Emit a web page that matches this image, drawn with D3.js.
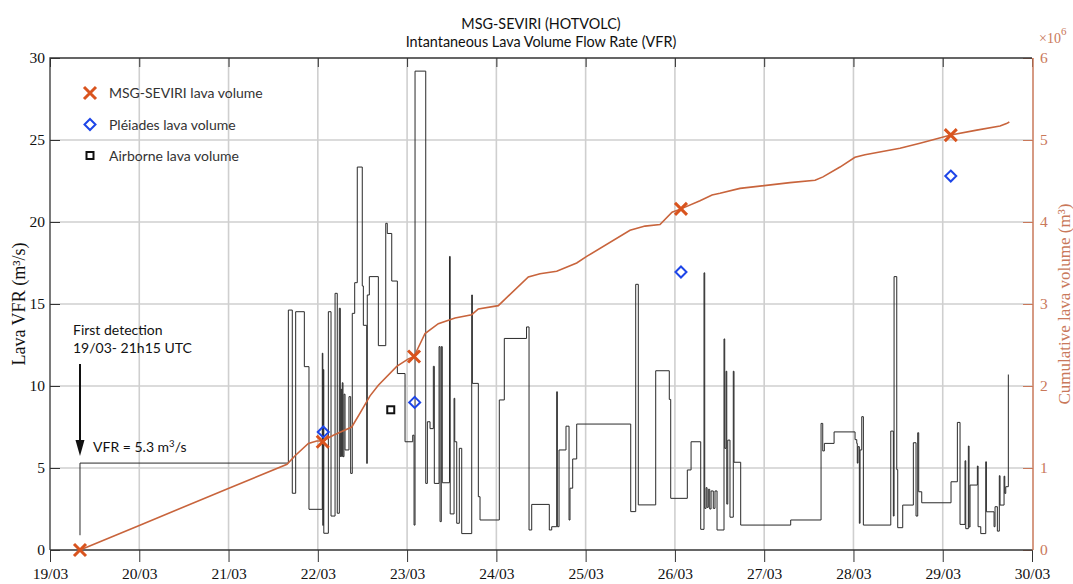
<!DOCTYPE html>
<html>
<head>
<meta charset="utf-8">
<script src="https://cdn.jsdelivr.net/npm/d3@7"></script>
<style>
body{margin:0;background:#fff;}
svg{display:block;}
</style>
</head>
<body>
<svg id="chart" width="1073" height="584"></svg>
<script>
// instantaneous VFR, step series (time = day of March, value in m3/s)
var vfrTime = [19.336,19.336,21.670,21.714,21.752,21.849,21.901,22.050,22.056,22.061,22.067,22.118,22.148,22.193,22.218,22.241,22.252,22.260,22.268,22.274,22.282,22.293,22.305,22.349,22.368,22.386,22.413,22.442,22.498,22.510,22.548,22.554,22.577,22.678,22.761,22.778,22.828,22.891,22.977,23.063,23.078,23.089,23.209,23.227,23.257,23.294,23.305,23.358,23.369,23.383,23.394,23.475,23.483,23.526,23.534,23.556,23.585,23.612,23.724,23.731,23.798,23.817,24.033,24.089,24.338,24.366,24.396,24.593,24.620,24.676,24.683,24.702,24.780,24.814,24.825,24.855,24.900,25.505,25.561,25.590,25.785,25.937,25.953,26.139,26.181,26.289,26.326,26.334,26.349,26.360,26.374,26.390,26.405,26.430,26.449,26.472,26.550,26.558,26.573,26.581,26.592,26.617,26.654,26.662,26.737,27.297,27.637,27.656,27.674,27.783,28.018,28.037,28.043,28.051,28.066,28.074,28.093,28.111,28.418,28.447,28.455,28.485,28.496,28.552,28.671,28.701,28.720,28.731,28.765,29.093,29.164,29.194,29.250,29.258,29.287,29.295,29.306,29.388,29.396,29.426,29.482,29.489,29.575,29.586,29.612,29.634,29.642,29.687,29.695,29.706,29.735];
var vfrValue = [0.9,5.3,14.63,3.46,14.53,11.18,2.48,12.0,1.5,11.0,1.02,14.53,2.07,15.65,2.24,14.74,5.7,9.8,5.7,10.2,5.69,9.5,6.1,9.35,4.67,14.43,16.3,23.35,16.1,13.7,5.28,15.55,16.67,12.46,19.92,19.3,16.4,10.76,6.6,7.0,1.52,29.2,4.06,7.82,7.4,11.2,4.06,12.4,1.73,12.4,4.1,17.9,2.2,9.25,6.6,1.63,6.2,1.0,15.55,10.16,3.25,1.83,9.15,12.9,13.6,1.22,2.78,1.22,1.42,9.65,1.42,6.1,7.55,1.83,3.77,5.55,7.68,2.34,16.2,2.75,10.93,9.18,3.15,4.88,6.6,1.26,16.9,2.54,3.8,2.6,3.7,2.5,3.6,2.54,3.6,1.22,12.87,6.2,10.9,2.8,6.7,2.0,10.9,5.35,1.52,1.83,7.72,6.04,6.5,7.2,6.73,6.5,5.3,6.3,1.63,6.1,8.13,1.52,7.25,2.07,16.67,4.9,1.36,2.74,6.54,2.07,7.15,3.55,2.88,4.16,7.78,1.56,5.44,1.3,6.34,1.4,3.96,5.12,1.42,1.0,5.38,2.33,1.42,2.64,1.15,4.53,2.74,4.5,3.45,3.86,10.7];

// cumulative lava volume (x 10^6 m3)
var cumTime = [19.336,20.000,20.997,21.655,21.745,21.894,21.988,22.055,22.174,22.380,22.473,22.585,22.678,22.884,23.014,23.078,23.201,23.350,23.537,23.724,23.798,24.022,24.358,24.489,24.676,24.900,25.012,25.497,25.665,25.833,25.968,26.068,26.281,26.416,26.505,26.729,27.289,27.570,27.659,27.849,28.017,28.129,28.521,28.745,29.090,29.381,29.642,29.714,29.746];
var cumVolume = [0,0.30,0.75,1.045,1.15,1.30,1.33,1.33,1.40,1.50,1.67,1.88,2.01,2.24,2.33,2.36,2.64,2.76,2.83,2.87,2.94,2.98,3.33,3.37,3.40,3.50,3.58,3.90,3.95,3.97,4.12,4.16,4.26,4.33,4.35,4.41,4.48,4.51,4.55,4.67,4.79,4.82,4.90,4.96,5.06,5.12,5.17,5.20,5.22];

var seviriTime = [19.336,22.055,23.078,26.068,29.090];
var seviriVolume = [0,1.32,2.36,4.16,5.06];
var pleiadesTime = [22.061,23.085,26.068,29.090];
var pleiadesVolume = [1.44,1.80,3.39,4.56];
var airborneTime = [22.817];
var airborneVolume = [1.71];

var dayTicks = [19,20,21,22,23,24,25,26,27,28,29,30];
var dayLabels = ["19/03","20/03","21/03","22/03","23/03","24/03","25/03","26/03","27/03","28/03","29/03","30/03"];
var vfrTicks = [0,5,10,15,20,25,30];
var volTicks = [0,1,2,3,4,5,6];

var serif = '"Liberation Serif","Times New Roman",serif';
var sans = 'Lato,"Open Sans",sans-serif';
var orange = "#c8643c";
var axisOrange = "#c9785a";

var L = 50, R = 1032, T = 58, B = 550;
var svg = d3.select("#chart");

var x = d3.scaleLinear().domain([19,30]).range([L,R]);
var y = d3.scaleLinear().domain([0,30]).range([B,T]);
var y2 = d3.scaleLinear().domain([0,6]).range([B,T]);

// grid
svg.append("g").selectAll("line").data(dayTicks.slice(1,-1)).enter().append("line")
  .attr("x1", d => x(d)).attr("x2", d => x(d)).attr("y1", T).attr("y2", B)
  .attr("stroke", "#cfcfcf").attr("stroke-width", 1.6);
svg.append("g").selectAll("line").data(vfrTicks.slice(1,-1)).enter().append("line")
  .attr("x1", L).attr("x2", R).attr("y1", d => y(d)).attr("y2", d => y(d))
  .attr("stroke", "#cfcfcf").attr("stroke-width", 1.6);

// left axis
var axLeft = d3.axisLeft(y).tickValues(vfrTicks).tickSize(-10).tickPadding(5);
var gl = svg.append("g").attr("transform", "translate(" + L + ",0)").call(axLeft);
gl.select(".domain").remove();
gl.selectAll("line").attr("stroke", "#333");
gl.selectAll("text").attr("font-family", serif).attr("font-size", 15.5).attr("fill", "#111");

// bottom axis
var axBottom = d3.axisBottom(x).tickValues(dayTicks).tickSize(12).tickPadding(6)
  .tickFormat((d,i) => dayLabels[i]);
var gb = svg.append("g").attr("transform", "translate(0," + B + ")").call(axBottom);
gb.select(".domain").remove();
gb.selectAll("line").attr("stroke", "#333");
gb.selectAll("text").attr("font-family", serif).attr("font-size", 15.5).attr("fill", "#111");

// top ticks
var axTop = d3.axisTop(x).tickValues(dayTicks).tickSize(-9).tickFormat("");
var gt = svg.append("g").attr("transform", "translate(0," + T + ")").call(axTop);
gt.select(".domain").remove();
gt.selectAll("line").attr("stroke", "#333");

// right axis
var axRight = d3.axisRight(y2).tickValues(volTicks).tickSize(-10).tickPadding(7).tickFormat(d3.format("d"));
var gr = svg.append("g").attr("transform", "translate(" + (R + 1) + ",0)").call(axRight);
gr.select(".domain").remove();
gr.selectAll("line").attr("stroke", axisOrange);
gr.selectAll("text").attr("font-family", serif).attr("font-size", 15.5).attr("fill", axisOrange).attr("x", 7);

// frame
svg.append("path").attr("d", "M" + L + "," + B + "V" + T + "H" + R).attr("fill", "none").attr("stroke", "#333").attr("stroke-width", 1.3);
svg.append("line").attr("x1", L).attr("x2", R + 1).attr("y1", B).attr("y2", B).attr("stroke", "#333").attr("stroke-width", 1.3);
svg.append("line").attr("x1", R + 1).attr("x2", R + 1).attr("y1", T).attr("y2", B).attr("stroke", axisOrange).attr("stroke-width", 1.5);

// VFR step line
var vfr = vfrTime.map((t,i) => [t, vfrValue[i]]);
var stepLine = d3.line().x(d => x(d[0])).y(d => y(d[1])).curve(d3.curveStepAfter);
svg.append("path").attr("d", stepLine(vfr)).attr("fill", "none").attr("stroke", "#2a2a2a").attr("stroke-width", 1);

// cumulative line
var cum = cumTime.map((t,i) => [t, cumVolume[i]]);
var cumLine = d3.line().x(d => x(d[0])).y(d => y2(d[1]));
svg.append("path").attr("d", cumLine(cum)).attr("fill", "none").attr("stroke", orange).attr("stroke-width", 1.6);

// markers
function cross(g, cx, cy, s) {
  g.append("path").attr("d", "M" + (cx - s) + "," + (cy - s) + "L" + (cx + s) + "," + (cy + s) + "M" + (cx - s) + "," + (cy + s) + "L" + (cx + s) + "," + (cy - s))
    .attr("stroke", "#d9541e").attr("stroke-width", 3).attr("fill", "none");
}
function diamond(g, cx, cy, s) {
  g.append("path").attr("d", "M" + cx + "," + (cy - s) + "L" + (cx + s) + "," + cy + "L" + cx + "," + (cy + s) + "L" + (cx - s) + "," + cy + "Z")
    .attr("stroke", "#1d45e8").attr("stroke-width", 2).attr("fill", "none");
}
function square(g, cx, cy, s) {
  g.append("rect").attr("x", cx - s).attr("y", cy - s).attr("width", 2 * s).attr("height", 2 * s)
    .attr("stroke", "#111").attr("stroke-width", 2).attr("fill", "none");
}
var gm = svg.append("g");
pleiadesTime.forEach((t,i) => diamond(gm, x(t), y2(pleiadesVolume[i]), 5.5));
airborneTime.forEach((t,i) => square(gm, x(t), y2(airborneVolume[i]), 3.5));
seviriTime.forEach((t,i) => cross(gm, x(t), y2(seviriVolume[i]), 6));

// legend
var lg = svg.append("g");
var legendItems = ["MSG-SEVIRI lava volume", "Pléiades lava volume", "Airborne lava volume"];
var legendY = [93, 124.5, 155.5];
cross(lg, 90, legendY[0], 6);
diamond(lg, 90, legendY[1], 5.5);
square(lg, 90, legendY[2], 3.5);
legendItems.forEach((s,i) => lg.append("text").attr("x", 109).attr("y", legendY[i] + 5)
  .attr("font-family", sans).attr("font-size", 14).attr("fill", "#333").text(s));

// titles
svg.append("text").attr("x", (L + R) / 2).attr("y", 29).attr("text-anchor", "middle")
  .attr("font-family", sans).attr("font-size", 14.4).attr("fill", "#111").text("MSG-SEVIRI (HOTVOLC)");
svg.append("text").attr("x", (L + R) / 2).attr("y", 46.5).attr("text-anchor", "middle")
  .attr("font-family", sans).attr("font-size", 14.4).attr("fill", "#111").text("Intantaneous Lava Volume Flow Rate (VFR)");

// axis titles
svg.append("text").attr("transform", "translate(25," + ((T + B) / 2) + ") rotate(-90)").attr("text-anchor", "middle")
  .attr("font-family", serif).attr("font-size", 18).attr("fill", "#111").text("Lava VFR (m³/s)");
svg.append("text").attr("transform", "translate(1070," + ((T + B) / 2) + ") rotate(-90)").attr("text-anchor", "middle")
  .attr("font-family", serif).attr("font-size", 17).attr("fill", axisOrange).text("Cumulative lava volume (m³)");
var ex = svg.append("text").attr("x", 1039).attr("y", 43).attr("font-family", serif).attr("font-size", 14).attr("fill", axisOrange);
ex.append("tspan").text("×10");
ex.append("tspan").attr("dy", -8).attr("font-size", 11).text("6");

// first detection annotation
var ann = svg.append("g").attr("font-family", sans).attr("font-size", 14).attr("fill", "#111");
ann.append("text").attr("x", 73).attr("y", 335).text("First detection");
ann.append("text").attr("x", 73).attr("y", 353).text("19/03- 21h15 UTC");
var vt = ann.append("text").attr("x", 93).attr("y", 452);
vt.append("tspan").text("VFR = 5.3 m");
vt.append("tspan").attr("dy", -5).attr("font-size", 9.5).text("3");
vt.append("tspan").attr("dy", 5).text("/s");
var ax0 = x(seviriTime[0]);
svg.append("line").attr("x1", ax0).attr("x2", ax0).attr("y1", 364).attr("y2", 442)
  .attr("stroke", "#111").attr("stroke-width", 2);
svg.append("path").attr("d", "M" + (ax0 - 4.5) + ",440L" + (ax0 + 4.5) + ",440L" + ax0 + ",456Z").attr("fill", "#111");
</script>
</body>
</html>
